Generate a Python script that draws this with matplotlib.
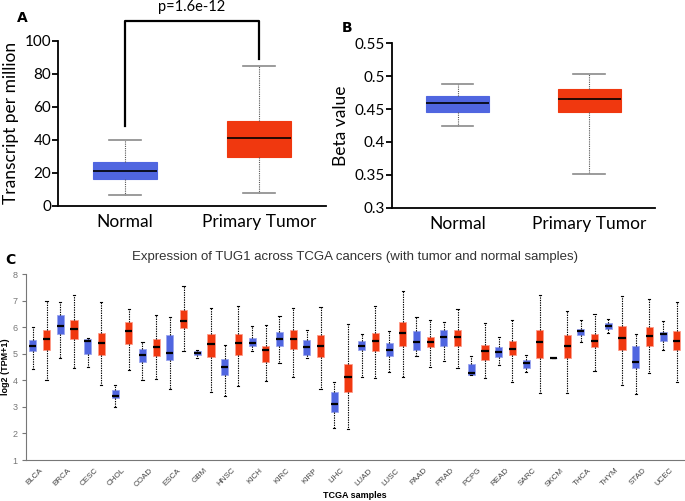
import matplotlib
matplotlib.use("Agg")
import matplotlib.pyplot as plt
import numpy as np

BLUE = "#5066e0"
RED = "#f0380f"

# panel A: TPM (whislo, q1, med, q3, whishi)
a_labels = ["Normal", "Primary Tumor"]
a_stats = [[6.5, 16.4, 21.2, 26.7, 39.8],
           [7.9, 29.5, 41.0, 51.1, 84.8]]
a_pval = "p=1.6e-12"

# panel B: beta value
b_labels = ["Normal", "Primary Tumor"]
b_stats = [[0.424, 0.446, 0.4586, 0.469, 0.488],
           [0.3515, 0.4455, 0.4657, 0.4798, 0.503]]

# panel C: log2(TPM+1), normal then tumor per cancer
c_cancers = ["BLCA", "BRCA", "CESC", "CHOL", "COAD", "ESCA", "GBM", "HNSC",
             "KICH", "KIRC", "KIRP", "LIHC", "LUAD", "LUSC", "PAAD", "PRAD",
             "PCPG", "READ", "SARC", "SKCM", "THCA", "THYM", "STAD", "UCEC"]
c_normal = [[4.43, 5.10, 5.28, 5.52, 6.00],
            [4.83, 5.75, 6.03, 6.45, 6.95],
            [4.50, 4.98, 5.47, 5.55, 5.60],
            [2.98, 3.32, 3.40, 3.63, 3.83],
            [4.03, 4.70, 4.97, 5.17, 5.43],
            [3.68, 4.77, 5.03, 5.72, 6.38],
            [4.85, 4.95, 5.03, 5.10, 5.15],
            [3.42, 4.20, 4.52, 4.80, 5.35],
            [5.11, 5.31, 5.40, 5.59, 6.03],
            [4.67, 5.31, 5.57, 5.82, 6.44],
            [4.86, 4.94, 5.24, 5.53, 5.88],
            [2.20, 2.81, 3.12, 3.56, 3.95],
            [4.12, 5.15, 5.29, 5.50, 5.75],
            [4.32, 4.90, 5.16, 5.42, 5.85],
            [4.93, 5.15, 5.45, 5.85, 6.37],
            [4.74, 5.31, 5.64, 5.88, 6.18],
            [4.19, 4.21, 4.29, 4.61, 4.90],
            [4.59, 4.88, 5.06, 5.25, 5.63],
            [4.32, 4.46, 4.65, 4.78, 4.94],
            [4.86, 4.86, 4.86, 4.86, 4.86],
            [5.44, 5.72, 5.85, 5.94, 6.26],
            [5.80, 5.93, 6.04, 6.16, 6.31],
            [3.50, 4.45, 4.69, 5.28, 5.74],
            [5.13, 5.50, 5.75, 5.82, 6.23]]
c_tumor = [[4.02, 5.13, 5.55, 5.90, 6.97],
           [4.45, 5.55, 5.93, 6.28, 7.20],
           [3.83, 4.97, 5.40, 5.80, 6.95],
           [4.38, 5.37, 5.85, 6.18, 6.67],
           [4.05, 4.90, 5.27, 5.55, 6.45],
           [5.10, 5.98, 6.25, 6.65, 7.57],
           [3.58, 4.88, 5.38, 5.73, 6.73],
           [3.78, 4.97, 5.42, 5.75, 6.80],
           [3.98, 4.71, 5.13, 5.30, 6.07],
           [4.14, 5.19, 5.57, 5.90, 6.73],
           [3.67, 4.88, 5.28, 5.69, 6.78],
           [2.15, 3.55, 4.12, 4.61, 6.13],
           [4.09, 5.09, 5.47, 5.78, 6.80],
           [4.11, 5.31, 5.77, 6.18, 7.37],
           [4.50, 5.25, 5.45, 5.65, 6.26],
           [4.46, 5.30, 5.62, 5.90, 6.68],
           [4.09, 4.78, 5.10, 5.35, 6.16],
           [3.95, 4.94, 5.19, 5.49, 6.28],
           [3.52, 4.86, 5.43, 5.88, 7.20],
           [3.52, 4.86, 5.30, 5.69, 6.63],
           [4.34, 5.24, 5.50, 5.75, 6.51],
           [3.81, 5.13, 5.59, 6.06, 7.16],
           [4.27, 5.28, 5.67, 6.00, 7.06],
           [3.95, 5.13, 5.50, 5.85, 6.96]]


def to_bxp(s):
    return dict(whislo=s[0], q1=s[1], med=s[2], q3=s[3], whishi=s[4], fliers=[])


fig = plt.figure(figsize=(6.85, 5.01), dpi=100)
plt.rcParams['font.family'] = ['Lato', 'DejaVu Sans']


def top_panel(ax, stats, labels, colors):
    b = ax.bxp([to_bxp(s) for s in stats], positions=[1, 2], widths=0.48,
               patch_artist=True, showfliers=False,
               whiskerprops=dict(color="#555555", lw=0.8, ls=(0, (1, 1))),
               capprops=dict(color="#8a8a8a", lw=1.2),
               medianprops=dict(color="black", lw=1.2),
               boxprops=dict(lw=0.8))
    for p, c in zip(b["boxes"], colors):
        p.set_facecolor(c)
        p.set_edgecolor(c)
    for cap in b["caps"]:
        x = cap.get_xdata()
        m = (x[0] + x[1]) / 2
        cap.set_xdata([m - 0.12, m + 0.12])
    ax.set_xlim(0.5, 2.5)
    ax.set_xticks([1, 2])
    ax.set_xticklabels(labels, fontsize=12.5)
    ax.spines[["top", "right"]].set_visible(False)
    ax.spines[["left", "bottom"]].set_linewidth(1.3)
    ax.tick_params(axis="x", length=0, pad=6)
    ax.tick_params(axis="y", labelsize=11, length=4, width=1.3, pad=1)


# panel A
axA = fig.add_axes([0.0847, 0.589, 0.391, 0.33])
top_panel(axA, a_stats, a_labels, [BLUE, RED])
axA.set_ylim(0, 100)
axA.set_yticks([0, 20, 40, 60, 80, 100])
axA.set_ylabel("Transcript per million", fontsize=12.5, labelpad=4)
axA.plot([1, 1, 2, 2], [48.3, 112, 112, 88.7], color="black", lw=1.6,
         clip_on=False)
axA.text(1.5, 120.5, a_pval, ha="center", va="center", fontsize=10.5)
fig.text(0.024, 0.964, "A", fontsize=10, fontweight="bold", va="center",
         family="DejaVu Sans")

# panel B
axB = fig.add_axes([0.572, 0.585, 0.384, 0.329])
top_panel(axB, b_stats, b_labels, [BLUE, RED])
axB.set_ylim(0.3, 0.55)
axB.set_yticks([0.3, 0.35, 0.4, 0.45, 0.5, 0.55])
axB.set_yticklabels(["0.3", "0.35", "0.4", "0.45", "0.5", "0.55"])
axB.set_ylabel("Beta value", fontsize=12.5, labelpad=4)
fig.text(0.499, 0.944, "B", fontsize=10, fontweight="bold", va="center",
         family="DejaVu Sans")

# panel C
axC = fig.add_axes([0.038, 0.0818, 0.96, 0.371])
x = np.arange(len(c_cancers))
for stats, off, col in [(c_normal, -0.25, BLUE), (c_tumor, 0.25, RED)]:
    b = axC.bxp([to_bxp(s) for s in stats], positions=x + off, widths=0.26,
                patch_artist=True, showfliers=False, manage_ticks=False,
                whiskerprops=dict(color="black", lw=0.8, ls=(0, (1.2, 1))),
                capprops=dict(color="black", lw=0.8),
                medianprops=dict(color="black", lw=1.6),
                boxprops=dict(lw=0.6))
    for p in b["boxes"]:
        p.set_facecolor(col)
        p.set_edgecolor("#ff9c8a" if col == RED else "#9aa6f0")
    for cap in b["caps"]:
        xd = cap.get_xdata()
        m = (xd[0] + xd[1]) / 2
        cap.set_xdata([m - 0.04, m + 0.04])
axC.set_xlim(-0.5, len(c_cancers) - 0.5)
axC.set_ylim(1, 8)
axC.set_xticks(x)
axC.set_xticklabels(c_cancers, rotation=45, ha="right", rotation_mode="anchor",
                    fontsize=5.8, color="#444444", family="Liberation Sans")
axC.set_yticks(range(1, 9))
axC.tick_params(axis="y", labelsize=6.5, labelcolor="#777777", color="#777777",
                length=3, width=0.8, pad=3)
axC.tick_params(axis="x", length=0, pad=5)
for lab in axC.get_yticklabels():
    lab.set_family("Liberation Sans")
axC.spines[["top", "right"]].set_visible(False)
axC.spines[["left", "bottom"]].set_color("#777777")
axC.set_ylabel("log2 (TPM+1)", fontsize=6.5, fontweight="bold",
               family="Liberation Sans", va="center")
axC.yaxis.set_label_coords(-0.031, 0.5)
axC.set_xlabel("TCGA samples", fontsize=6.5, fontweight="bold",
               family="Liberation Sans", labelpad=2)
fig.text(0.518, 0.487, "Expression of TUG1 across TCGA cancers (with tumor and normal samples)",
         ha="center", va="center", fontsize=9.5, color="#333333",
         family="Liberation Sans")
fig.text(0.008, 0.481, "C", fontsize=10, fontweight="bold", va="center",
         family="DejaVu Sans")

fig.savefig("out.png", dpi=100)
